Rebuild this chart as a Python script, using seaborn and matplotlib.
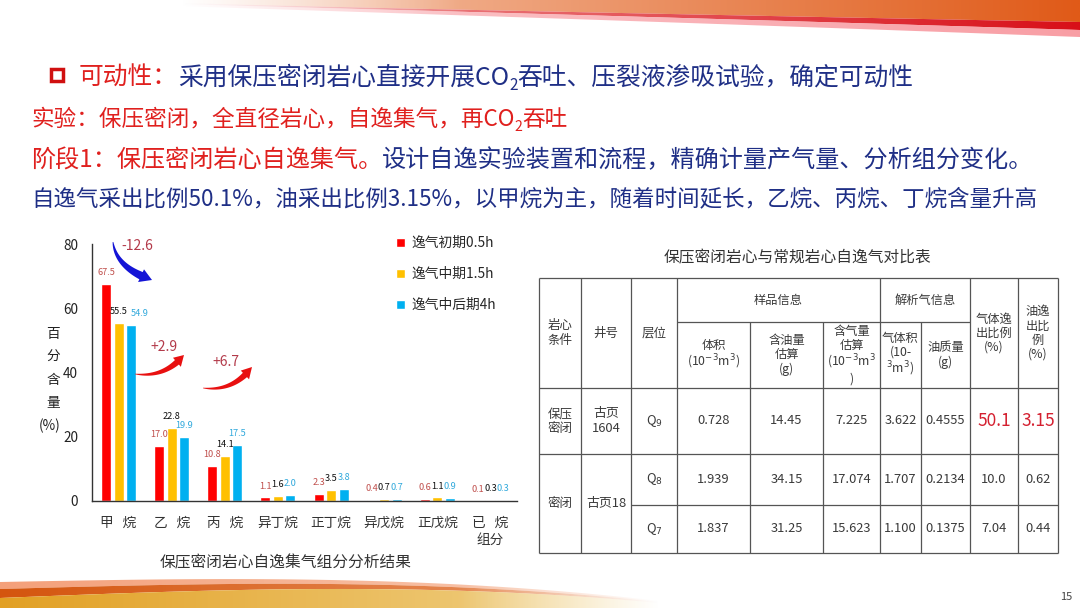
import numpy as np
import pandas as pd
import seaborn as sns
import matplotlib.pyplot as plt
from matplotlib.patches import Polygon, Rectangle
from matplotlib.colors import to_rgb

# ---- chart data ----
components = ["甲   烷", "乙   烷", "丙   烷", "异丁烷", "正丁烷", "异戊烷", "正戊烷", "已   烷\n组分"]
stages = ["逸气初期0.5h", "逸气中期1.5h", "逸气中后期4h"]
early = [67.5, 17.0, 10.8, 1.1, 2.3, 0.4, 0.6, 0.1]
middle = [55.5, 22.8, 14.1, 1.6, 3.5, 0.7, 1.1, 0.3]
late = [54.9, 19.9, 17.5, 2.0, 3.8, 0.7, 0.9, 0.3]
yticks = [0, 20, 40, 60, 80]
changes = ["-12.6", "+2.9", "+6.7"]

# ---- table data ----
table_title = "保压密闭岩心与常规岩心自逸气对比表"
head_main = ["岩心\n条件", "井号", "层位"]
head_groups = ["样品信息", "解析气信息"]
head_sub = ["体积\n(10$^{-3}$m$^3$)", "含油量\n估算\n(g)", "含气量\n估算\n(10$^{-3}$m$^3$\n)",
            "气体积\n(10-\n$^3$m$^3$)", "油质量\n(g)"]
head_ratio = ["气体逸\n出比例\n(%)", "油逸\n出比\n例\n(%)"]
core_cond = ["保压\n密闭", "密闭"]
wells = ["古页\n1604", "古页18"]
tbl_rows = [
    ["Q$_9$", "0.728", "14.45", "7.225", "3.622", "0.4555", "50.1", "3.15"],
    ["Q$_8$", "1.939", "34.15", "17.074", "1.707", "0.2134", "10.0", "0.62"],
    ["Q$_7$", "1.837", "31.25", "15.623", "1.100", "0.1375", "7.04", "0.44"],
]

RED = "#E0201E"
NAVY = "#1F2F86"
colors = ["#FF0000", "#FFC000", "#00B0F0"]
label_colors = ["#C0504D", "#111111", "#31A9DC"]

sns.set_style("white")
plt.rcParams["font.family"] = ["Noto Sans CJK SC", "DejaVu Sans"]
plt.rcParams["mathtext.fontset"] = "dejavusans"

fig = plt.figure(figsize=(10.8, 6.08), dpi=100)
bg = fig.add_axes([0, 0, 1, 1], zorder=0)
ov = fig.add_axes([0, 0, 1, 1], zorder=5)
renderer = fig.canvas.get_renderer()


def band(x, y_top, y_bot, c_left, c_right, alpha):
    poly = Polygon(np.column_stack([np.r_[x, x[::-1]], np.r_[y_top, y_bot[::-1]]]),
                   closed=True, facecolor="none", edgecolor="none")
    bg.add_patch(poly)
    n = len(x)
    t = np.linspace(0, 1, n)[None, :, None]
    rgb = np.array(to_rgb(c_left)) + (np.array(to_rgb(c_right)) - np.array(to_rgb(c_left))) * t
    img = np.concatenate([rgb, np.asarray(alpha)[None, :, None]], axis=2)
    im = bg.imshow(img, extent=[x.min(), x.max(), max(y_bot.max(), y_top.max()),
                                min(y_top.min(), y_bot.min())], aspect="auto", interpolation="bilinear")
    im.set_clip_path(poly)


# top swoosh
xt = np.linspace(180, 1080, 300)
tt = (xt - 180) / 900
fade = np.clip((xt - 180) / 280, 0, 1)
yo = 3 + 19 * tt ** 0.9
yr = yo + 1 + 7 * tt ** 1.6
yp = yr + 2 + 5 * tt
band(xt, np.zeros_like(xt), yo, "#F7CDB6", "#E05A18", fade)
band(xt, yo, yr, "#F2A0A0", "#D80F18", fade)
band(xt, yr, yp, "#FBC0C4", "#F7868E", fade * 0.8)

# bottom swoosh
xb = np.linspace(0, 660, 300)
s = xb / 660
fade_b = np.clip((660 - xb) / 200, 0, 1)
ytop = 582 - 5 * np.sin(np.pi * s * 0.8) + 22 * s ** 3
ya = ytop + 1 + 6 * (1 - s)
yb = ya + 1 + 8 * (1 - s)
band(xb, ytop, ya, "#F4A07A", "#F9CDB6", fade_b)
band(xb, ya, yb, "#D4550E", "#EC9A6A", fade_b)
band(xb, yb, np.full_like(xb, 608.0), "#E2A024", "#F2D690", fade_b)

for a in (bg, ov):
    a.set_xlim(0, 1080)
    a.set_ylim(608, 0)
    a.axis("off")

# ---- bar chart ----
ax = fig.add_axes([92 / 1080, 1 - 501 / 608, 425 / 1080, 257 / 608], zorder=3)
ax.patch.set_alpha(0)
df = pd.DataFrame({
    "组分": components * 3,
    "阶段": np.repeat(stages, len(components)),
    "含量": early + middle + late,
})
sns.barplot(data=df, x="组分", y="含量", hue="阶段", order=components, hue_order=stages,
            palette=dict(zip(stages, colors)), width=0.705, gap=0.2, errorbar=None,
            saturation=1, ax=ax)
bar_labels = []
for cont, col in zip(ax.containers, label_colors):
    bar_labels.append(ax.bar_label(cont, fmt="%.1f", padding=5, fontsize=6.6, color=col))
# the first cyan label sits a little to the right, as on the slide
bar_labels[2][0].xyann = (6.5, 5)

ax.set_xlim(-0.5, 7.5)
ax.set_ylim(0, 80)
ax.set_yticks(yticks)
ax.set_xlabel("")
ax.set_ylabel("")
sns.despine(ax=ax)
for side in ("left", "bottom"):
    ax.spines[side].set_color("#333333")
    ax.spines[side].set_linewidth(1.0)
ax.tick_params(axis="y", direction="in", length=4, width=1, pad=10, labelsize=9.8,
               colors="#333333", labelcolor="#222222")
ax.tick_params(axis="x", length=0, pad=11, labelsize=9.8, labelcolor="#333333")

h, l = ax.get_legend_handles_labels()
ax.legend(h, l, loc="upper left", bbox_to_anchor=(396 / 1080, 1 - 236 / 608),
          bbox_transform=fig.transFigure, frameon=False, fontsize=9.9,
          handlelength=0.65, handleheight=0.65, handletextpad=0.45,
          labelspacing=1.25, borderpad=0, borderaxespad=0)

# y label, stacked characters
for i, ch in enumerate(["百", "分", "含", "量", "(%)"]):
    ov.text(53 if i < 4 else 50, 334 + 23 * i, ch, fontsize=9.8, color="#222222",
            ha="center", va="center")

ov.text(286, 563, "保压密闭岩心自逸集气组分分析结果", fontsize=11.3, color="#333333",
        ha="center", va="center")


# change arrows: tapered curved arrows along a quadratic curve
def curved_arrow(p0, c, p2, body_w, head_w, head_len, color):
    p0, c, p2 = (np.asarray(p, float) for p in (p0, c, p2))
    t = np.linspace(0, 1, 80)[:, None]
    pts = (1 - t) ** 2 * p0 + 2 * (1 - t) * t * c + t ** 2 * p2
    d = 2 * (1 - t) * (c - p0) + 2 * t * (p2 - c)
    d /= np.linalg.norm(d, axis=1)[:, None]
    nrm = np.column_stack([-d[:, 1], d[:, 0]])
    arc = np.r_[0, np.cumsum(np.linalg.norm(np.diff(pts, axis=0), axis=1))]
    keep = arc <= arc[-1] - head_len
    body, nb, sb = pts[keep], nrm[keep], arc[keep]
    w = body_w * (0.08 + 0.92 * (sb / sb[-1]) ** 0.8) / 2
    left = body + nb * w[:, None]
    right = body - nb * w[:, None]
    outline = np.vstack([left, body[-1] + nb[-1] * head_w / 2, pts[-1],
                         body[-1] - nb[-1] * head_w / 2, right[::-1]])
    ov.add_patch(Polygon(outline, closed=True, facecolor=color, edgecolor="none"))


curved_arrow((113, 242), (116, 268), (152, 280), 8, 14, 11, "#1414D6")
curved_arrow((135, 374), (165, 378), (184, 355), 6, 12, 10, "#E81010")
curved_arrow((203, 388), (233, 392), (252, 367), 6, 12, 10, "#E81010")
for txt, (tx, ty) in zip(changes, [(137, 246), (164, 347), (226, 362)]):
    ov.text(tx, ty, txt, fontsize=10, color="#B33A4A", ha="center", va="center")


# ---- header lines ----
def adv(txt, size):
    t1 = ov.text(0, 0, txt + "口", fontsize=size)
    t2 = ov.text(0, 0, "口", fontsize=size)
    w = t1.get_window_extent(renderer).width - t2.get_window_extent(renderer).width
    t1.remove()
    t2.remove()
    return w


def rich_line(x0, yc, parts, width, size):
    total = sum(adv(p, size * (0.62 if sub else 1)) for p, c, sub in parts)
    size *= width / total
    px = size * 100 / 72
    base = yc + 0.38 * px
    x = x0
    for p, c, sub in parts:
        sz = size * (0.62 if sub else 1)
        ov.text(x, base + (0.22 * px if sub else 0), p, color=c, fontsize=sz, va="baseline")
        x += adv(p, sz)


ov.add_patch(Rectangle((51, 69), 12, 12, facecolor="white", edgecolor="#D01010", lw=2.5))
rich_line(79, 75, [("可动性：", RED, False), ("采用保压密闭岩心直接开展CO", NAVY, False),
                   ("2", NAVY, True), ("吞吐、压裂液渗吸试验，确定可动性", NAVY, False)], 836, 18)
rich_line(31, 117, [("实验：保压密闭，全直径岩心，自逸集气，再CO", RED, False), ("2", RED, True),
                    ("吞吐", RED, False)], 537, 16)
rich_line(31, 158, [("阶段1：保压密闭岩心自逸集气。", RED, False),
                    ("设计自逸实验装置和流程，精确计量产气量、分析组分变化。", NAVY, False)], 1003, 17)
rich_line(31, 197, [("自逸气采出比例50.1%，油采出比例3.15%，以甲烷为主，随着时间延长，乙烷、丙烷、丁烷含量升高",
                     NAVY, False)], 1005, 16)

# ---- table ----
col_x = [539, 581, 631, 677, 750, 823, 880, 921, 970, 1018, 1058]
row_y = [278, 322, 388, 454, 505, 553]
cx = [(a + b) / 2 for a, b in zip(col_x[:-1], col_x[1:])]
lc = "#555555"
ov.hlines([row_y[0], row_y[2], row_y[3], row_y[5]], col_x[0], col_x[-1], color=lc, lw=0.9)
ov.hlines(row_y[1], col_x[3], col_x[8], color=lc, lw=0.9)
ov.hlines(row_y[4], col_x[2], col_x[-1], color=lc, lw=0.9)
ov.vlines([col_x[i] for i in (0, 1, 2, 3, 6, 8, 9, 10)], row_y[0], row_y[5], color=lc, lw=0.9)
ov.vlines([col_x[i] for i in (4, 5, 7)], row_y[1], row_y[5], color=lc, lw=0.9)

tc = "#3A3A3A"
ov.text(797, 258, table_title, fontsize=11.3, color="#333333", ha="center", va="center")
hy = (row_y[0] + row_y[2]) / 2
for i, txt in enumerate(head_main):
    ov.text(cx[i], hy, txt, fontsize=9, color=tc, ha="center", va="center", linespacing=1.15)
ov.text((col_x[3] + col_x[6]) / 2, (row_y[0] + row_y[1]) / 2, head_groups[0], fontsize=8.8,
        color=tc, ha="center", va="center")
ov.text((col_x[6] + col_x[8]) / 2, (row_y[0] + row_y[1]) / 2, head_groups[1], fontsize=8.8,
        color=tc, ha="center", va="center")
for i, txt in enumerate(head_sub):
    ov.text(cx[3 + i], (row_y[1] + row_y[2]) / 2, txt, fontsize=8.8, color=tc,
            ha="center", va="center", linespacing=1.1)
for i, txt in enumerate(head_ratio):
    ov.text(cx[8 + i], hy, txt, fontsize=8.8, color=tc, ha="center", va="center", linespacing=1.1)

row_c = [(row_y[2] + row_y[3]) / 2, (row_y[3] + row_y[4]) / 2, (row_y[4] + row_y[5]) / 2]
merged_c = [row_c[0], (row_y[3] + row_y[5]) / 2]
for i in range(2):
    ov.text(cx[0], merged_c[i], core_cond[i], fontsize=9, color=tc, ha="center", va="center",
            linespacing=1.15)
    ov.text(cx[1], merged_c[i], wells[i], fontsize=9.3, color=tc, ha="center", va="center",
            linespacing=1.15)
for r, row in enumerate(tbl_rows):
    for j, val in enumerate(row):
        big = r == 0 and j >= 6
        ov.text(cx[2 + j], row_c[r], val, fontsize=12.5 if big else 9.3,
                color="#D42030" if big else tc, ha="center", va="center")

ov.text(1066, 597, "15", fontsize=8, color="#444444", ha="center", va="center")

fig.savefig("out.png", dpi=100)
